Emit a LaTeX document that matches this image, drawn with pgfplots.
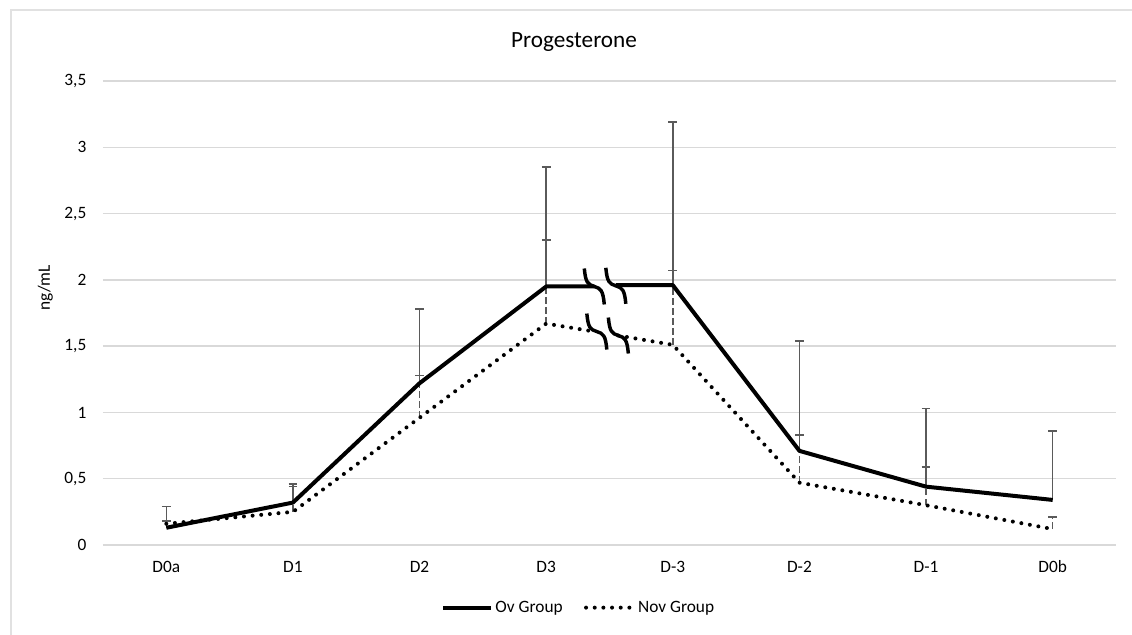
\documentclass[border=0pt]{standalone}
\usepackage{pgfplots}
\pgfplotsset{compat=1.18}
\usepackage{fontspec}
\setmainfont{Carlito}
\definecolor{gridgray}{HTML}{D9D9D9}
\definecolor{errgray}{HTML}{5A5A5A}
\begin{document}
\begin{tikzpicture}
% canvas 1132 x 635 px (1px = 0.75pt), y measured from bottom
\useasboundingbox (0pt,0pt) rectangle (849pt,476.25pt);
\draw[gridgray!80, line width=1.2pt] (8.25pt,0pt) -- (8.25pt,468.75pt) -- (849pt,468.75pt);
\node[font=\fontsize{17.4}{20}\selectfont] at (430.5pt,445pt) {Progesterone};
\begin{axis}[
  at={(77.25pt,67.5pt)}, anchor=south west,
  scale only axis, width=759.75pt, height=348pt,
  xmin=-0.5, xmax=7.5, ymin=0, ymax=3.5,
  axis line style={draw=none},
  xtick={0,...,7},
  xticklabels={D0a,D1,D2,D3,D-3,D-2,D-1,D0b},
  ytick={0,0.5,...,3.5},
  yticklabels={0,{0,5},1,{1,5},2,{2,5},3,{3,5}},
  major tick length=0pt,
  ymajorgrids, grid style={gridgray, line width=1pt},
  tick label style={font=\fontsize{13}{15}\selectfont},
  xticklabel style={anchor=base, yshift=-21pt},
  yticklabel style={xshift=-9pt},
  ylabel={ng/mL},
  ylabel style={font=\fontsize{13}{15}\selectfont, at={(axis description cs:-0.057,0.554)}, anchor=center},
  clip=false,
  legend style={at={(axis description cs:0.470,-0.135)}, anchor=center, draw=none, legend columns=2,
    font=\fontsize{13}{15}\selectfont, /tikz/every even column/.append style={column sep=14pt}},
  legend image code/.code={\draw[#1] (0cm,0cm) -- (1.25cm,0cm);},
]
% Nov group error bars (dashed)
\addplot[forget plot, draw=none, mark=none,
  error bars/.cd, y dir=plus, y explicit,
  error bar style={draw=errgray, line width=1.1pt, dash pattern=on 5pt off 2.5pt},
  error mark options={rotate=90, mark size=3.3pt, solid, draw=errgray, line width=1.1pt}]
  coordinates {
  (0,0.16) +- (0,0.02)
  (1,0.25) +- (0,0.19)
  (2,0.96) +- (0,0.32)
  (3,1.67) +- (0,0.63)
  (4,1.51) +- (0,0.56)
  (5,0.47) +- (0,0.36)
  (6,0.30) +- (0,0.29)
  (7,0.12) +- (0,0.09)
  };
% Ov group error bars (solid)
\addplot[forget plot, draw=none, mark=none,
  error bars/.cd, y dir=plus, y explicit,
  error bar style={draw=errgray, line width=1.1pt, solid},
  error mark options={rotate=90, mark size=3.3pt, draw=errgray, line width=1.1pt}]
  coordinates {
  (0,0.13) +- (0,0.16)
  (1,0.32) +- (0,0.14)
  (2,1.22) +- (0,0.56)
  (3,1.95) +- (0,0.90)
  (4,1.96) +- (0,1.23)
  (5,0.71) +- (0,0.83)
  (6,0.44) +- (0,0.59)
  (7,0.34) +- (0,0.52)
  };
% Ov group line (broken between D3 and D-3)
\addplot[black, line width=3pt, line join=round, mark=none]
  coordinates {(0,0.13) (1,0.32) (2,1.22) (3,1.95) (3.38,1.95)};
\addlegendentry{Ov Group}
% Nov group line
\addplot[black, line width=3pt, line cap=round, dash pattern=on 0pt off 6.5pt, mark=none]
  coordinates {(0,0.16) (1,0.25) (2,0.96) (3,1.67) (3.38,1.61)};
\addlegendentry{Nov Group}
\addplot[forget plot, black, line width=3pt, line join=round, mark=none]
  coordinates {(3.55,1.96) (4,1.96) (5,0.71) (6,0.44) (7,0.34)};
\addplot[forget plot, black, line width=3pt, line cap=round, dash pattern=on 0pt off 6.5pt, mark=none]
  coordinates {(3.57,1.58) (4,1.51) (5,0.47) (6,0.30) (7,0.12)};
% break marks
\foreach \bx/\by in {3.38/1.95, 3.55/1.955, 3.40/1.61, 3.57/1.58}{
  \edef\tmp{\noexpand\draw[black, line width=2.6pt, shift={(axis cs:\bx,\by)}]
    (-7.5pt,13.5pt) .. controls (-6.5pt,3pt) and (-5pt,1.5pt) .. (0pt,0pt)
    .. controls (5pt,-1.5pt) and (6.5pt,-3pt) .. (7.5pt,-13.5pt);}
  \tmp
}
\end{axis}
\end{tikzpicture}
\end{document}
